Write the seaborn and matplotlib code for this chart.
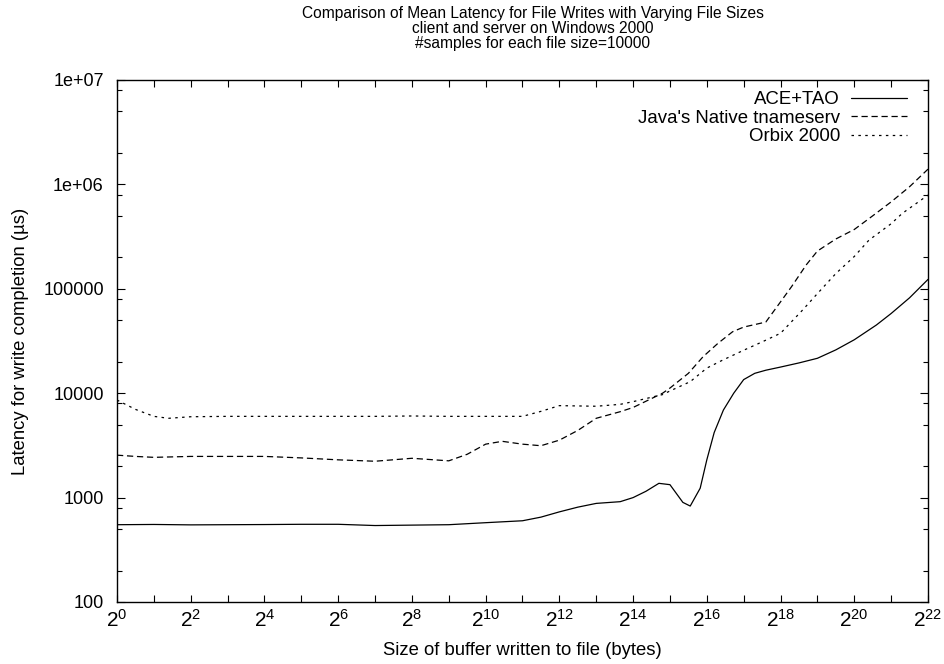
import numpy as np
import pandas as pd
import seaborn as sns
import matplotlib
import matplotlib.pyplot as plt
from matplotlib.ticker import FixedLocator, LogLocator, NullFormatter, NullLocator

matplotlib.use("Agg")

# exponent of 2 for buffer size, and mean latency (us)
ace_exp = [0, 1, 2, 3, 4, 5, 6, 7, 8, 9, 10, 11, 11.5, 12, 12.5, 13, 13.65, 14, 14.35,
           14.7, 15, 15.35, 15.55, 15.82, 16, 16.2, 16.45, 16.73, 17, 17.3, 17.6, 18,
           18.5, 19, 19.5, 20, 20.6, 21, 21.5, 22]
ace_lat = [550, 553, 548, 550, 552, 555, 555, 540, 545, 550, 575, 600, 650, 730, 810,
           880, 914, 1000, 1150, 1370, 1330, 900, 830, 1230, 2300, 4200, 6900, 10000,
           13500, 15500, 16600, 17800, 19500, 21600, 26000, 32500, 45000, 58000, 82000,
           123000]

java_exp = [0, 0.5, 1, 2, 3, 4, 5, 6, 7, 8, 9, 9.5, 10, 10.45, 11, 11.5, 12, 12.5,
            13, 13.65, 14, 14.8, 15, 15.5, 15.9, 16.3, 16.7, 17, 17.6, 18, 18.3, 18.7,
            19, 19.5, 20, 20.5, 21, 21.5, 22]
java_lat = [2550, 2480, 2430, 2480, 2480, 2480, 2400, 2300, 2230, 2380, 2250, 2600,
            3250, 3460, 3250, 3140, 3550, 4400, 5750, 6650, 7300, 10000, 11200, 15500,
            22400, 30000, 38800, 43000, 48000, 75000, 105000, 170000, 230000, 300000,
            370000, 500000, 680000, 950000, 1400000]

orbix_exp = [0, 0.5, 1, 1.4, 2, 3, 4, 5, 6, 7, 8, 9, 10, 11, 11.5, 12, 13, 13.65, 14,
             14.8, 15, 15.55, 16, 16.4, 17, 17.5, 18, 18.6, 19, 19.5, 20, 20.4, 21,
             21.3, 22]
orbix_lat = [8600, 7000, 6000, 5750, 5950, 6000, 6000, 6000, 6000, 6000, 6050, 6000,
             6000, 6000, 6700, 7600, 7500, 7820, 8300, 9700, 10500, 12900, 17400, 20500,
             25800, 31000, 37500, 62700, 90000, 140000, 204000, 293000, 420000, 527000,
             790000]

series = ["ACE+TAO", "Java's Native tnameserv", "Orbix 2000"]

frames = []
for name, ex, lat in zip(series, [ace_exp, java_exp, orbix_exp], [ace_lat, java_lat, orbix_lat]):
    frames.append(pd.DataFrame({"size": 2.0 ** np.array(ex), "latency": lat, "orb": name}))
data = pd.concat(frames, ignore_index=True)

sns.set_style("ticks")
plt.rcParams["font.family"] = ["Liberation Sans", "DejaVu Sans"]
plt.rcParams["mathtext.fontset"] = "custom"
plt.rcParams["mathtext.rm"] = "Liberation Sans"
for key in ["text.color", "axes.labelcolor", "xtick.color", "ytick.color"]:
    plt.rcParams[key] = "black"

fig = plt.figure(figsize=(9.45, 6.64), dpi=100)
ax = fig.add_axes([117 / 945, 62 / 664, 811 / 945, 522 / 664])

sns.lineplot(
    data=data,
    x="size",
    y="latency",
    hue="orb",
    style="orb",
    palette={s: "black" for s in series},
    dashes={series[0]: "", series[1]: (5, 3), series[2]: (2, 3.5)},
    linewidth=0.9,
    sort=False,
    estimator=None,
    ax=ax,
)

ax.set_xscale("log", base=2)
ax.set_yscale("log")
ax.set_xlim(1, 2 ** 22)
ax.set_ylim(100, 1e7)

xt = 2.0 ** np.arange(0, 23)
ax.xaxis.set_major_locator(FixedLocator(xt))
ax.xaxis.set_minor_locator(NullLocator())
ax.set_xticklabels([r"$\mathregular{2^{%d}}$" % e if e % 2 == 0 else "" for e in range(23)])
ax.yaxis.set_major_locator(FixedLocator([100, 1000, 10000, 100000, 1e6, 1e7]))
ax.set_yticklabels(["100", "1000", "10000", "100000", "1e+06", "1e+07"])
ax.yaxis.set_minor_locator(LogLocator(base=10, subs=[2, 5, 8]))
ax.yaxis.set_minor_formatter(NullFormatter())

ax.tick_params(which="both", direction="in", top=True, right=True,
               color="black", labelcolor="black", width=0.8)
ax.tick_params(which="major", length=6)
ax.tick_params(which="minor", length=3.5)
ax.tick_params(axis="y", labelsize=13, pad=9.5)
ax.tick_params(axis="x", which="major", length=5, labelsize=15, pad=5)
for sp in ax.spines.values():
    sp.set_linewidth(1.0)
    sp.set_color("black")

ax.set_xlabel("Size of buffer written to file (bytes)", fontsize=13.3, labelpad=8)
ax.set_ylabel("Latency for write completion (\u00b5s)", fontsize=13.3, labelpad=10)

fig.text(533 / 945, 1 - 6 / 664,
         "Comparison of Mean Latency for File Writes with Varying File Sizes\n"
         "client and server on Windows 2000\n"
         "#samples for each file size=10000",
         ha="center", va="top", fontsize=11.2, linespacing=1.0, color="black")

handles, labels = ax.get_legend_handles_labels()
ax.legend(handles, labels, loc="upper right", frameon=False, markerfirst=False,
          fontsize=13.4, handlelength=3.0, handletextpad=0.6, labelspacing=0.08,
          borderaxespad=0.2, bbox_to_anchor=(0.988, 1.0))

plt.savefig("out.png", dpi=100)
